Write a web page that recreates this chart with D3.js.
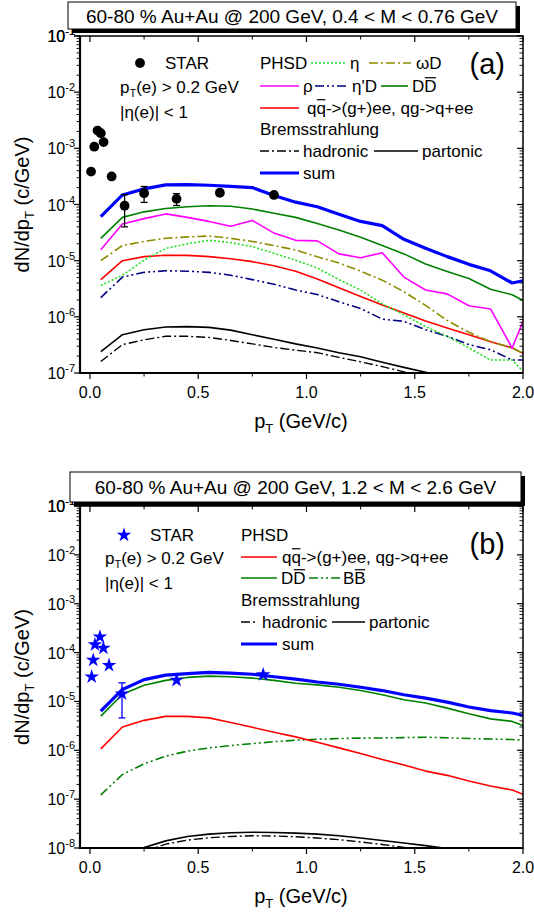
<!DOCTYPE html>
<html><head><meta charset="utf-8">
<script src="https://cdn.jsdelivr.net/npm/d3@7"></script>
<style>
body{margin:0;background:#fff}
svg{display:block;font-family:"Liberation Sans",Arial,Helvetica,sans-serif}
</style>
</head><body>
<svg id="chart" width="534" height="915"></svg>
<script>
// transverse momentum grid of the PHSD curves (GeV/c)
const ptGrid = [0.05,0.15,0.25,0.35,0.45,0.55,0.65,0.75,0.85,0.95,1.05,1.15,1.25,1.35,1.45,1.55,1.65,1.75,1.85,1.95,2.0];

// ---- panel (a): 0.4 < M < 0.76 GeV ----
const aSum      = [6.1e-5,1.48e-4,1.9e-4,2.24e-4,2.25e-4,2.2e-4,2.1e-4,2.0e-4,1.45e-4,1.1e-4,9.1e-5,6.7e-5,5.0e-5,4.2e-5,2.4e-5,1.67e-5,1.18e-5,8.6e-6,6.6e-6,4.0e-6,4.4e-6];
const aDDbar    = [2.5e-5,5.9e-5,7.4e-5,8.5e-5,9.1e-5,9.5e-5,9.3e-5,8.3e-5,7.0e-5,5.9e-5,4.6e-5,3.5e-5,2.6e-5,1.86e-5,1.32e-5,8.7e-6,6.4e-6,4.8e-6,3.1e-6,2.47e-6,1.96e-6];
const aRho      = [1.56e-5,4.5e-5,5.6e-5,6.8e-5,5.9e-5,5.0e-5,4.1e-5,5.2e-5,3.1e-5,2.3e-5,2.25e-5,1.32e-5,1.13e-5,1.38e-5,5.1e-6,3.0e-6,2.56e-6,1.58e-6,1.38e-6,2.78e-7,8.3e-7];
const aOmegaD   = [1.0e-5,1.86e-5,2.2e-5,2.5e-5,2.65e-5,2.75e-5,2.5e-5,2.2e-5,1.85e-5,1.55e-5,1.17e-5,9.1e-6,6.5e-6,4.5e-6,2.8e-6,1.6e-6,8.6e-7,5.3e-7,3.6e-7,2.8e-7,2.25e-7];
const aEta      = [3.6e-6,5.5e-6,1.02e-5,1.65e-5,2.0e-5,2.3e-5,2.1e-5,1.78e-5,1.35e-5,1.02e-5,7.4e-6,4.6e-6,3.0e-6,1.7e-6,1.09e-6,6.7e-7,4.5e-7,2.8e-7,1.7e-7,1.7e-7,1.07e-7];
const aQQbar    = [4.6e-6,1.0e-5,1.18e-5,1.25e-5,1.24e-5,1.18e-5,1.08e-5,9.6e-6,8.1e-6,6.5e-6,4.7e-6,3.3e-6,2.3e-6,1.62e-6,1.17e-6,8.4e-7,6.3e-7,4.8e-7,3.6e-7,2.8e-7,2.24e-7];
const aEtaPrimeD= [2.2e-6,5.1e-6,6.2e-6,6.6e-6,6.5e-6,6.2e-6,5.5e-6,4.6e-6,3.8e-6,3.0e-6,2.5e-6,1.85e-6,1.41e-6,9.1e-7,8.3e-7,5.9e-7,4.5e-7,3.2e-7,2.6e-7,1.7e-7,1.7e-7];
const aPartonic = [2.4e-7,4.8e-7,5.9e-7,6.6e-7,6.7e-7,6.5e-7,5.8e-7,4.8e-7,4.0e-7,3.3e-7,2.78e-7,2.3e-7,1.94e-7,1.55e-7,1.26e-7,1.03e-7,8.5e-8,7.0e-8,5.8e-8,4.8e-8,4.4e-8];
const aHadronic = [1.6e-7,3.2e-7,3.9e-7,4.5e-7,4.5e-7,4.3e-7,3.8e-7,3.3e-7,2.85e-7,2.55e-7,2.3e-7,1.9e-7,1.58e-7,1.3e-7,1.05e-7,8.4e-8,6.8e-8,5.5e-8,4.5e-8,3.7e-8,3.4e-8];
// STAR measurement
const aStarPt  = [0.005,0.02,0.035,0.05,0.063,0.1,0.16,0.25,0.40,0.60,0.85];
const aStarVal = [3.85e-4,1.07e-3,2.07e-3,1.86e-3,1.29e-3,3.16e-4,9.5e-5,1.59e-4,1.26e-4,1.62e-4,1.48e-4];
const aStarErr = [1.5e-5,4e-5,8e-5,7e-5,5e-5,3e-5,5.5e-5,5.0e-5,3.0e-5,2.0e-5,1.5e-5];

// ---- panel (b): 1.2 < M < 2.6 GeV ----
const bSum      = [6.3e-6,1.76e-5,2.8e-5,3.45e-5,3.7e-5,3.95e-5,3.8e-5,3.6e-5,3.2e-5,2.85e-5,2.5e-5,2.25e-5,1.95e-5,1.67e-5,1.37e-5,1.17e-5,9.7e-6,7.7e-6,6.5e-6,5.8e-6,5.2e-6];
const bDDbar    = [5.0e-6,1.4e-5,2.15e-5,2.7e-5,3.1e-5,3.3e-5,3.2e-5,3.0e-5,2.7e-5,2.35e-5,2.18e-5,1.95e-5,1.67e-5,1.37e-5,1.08e-5,9.3e-6,7.3e-6,5.6e-6,4.4e-6,3.9e-6,3.2e-6];
const bQQbar    = [1.07e-6,3.0e-6,4.1e-6,4.95e-6,4.95e-6,4.6e-6,3.7e-6,2.95e-6,2.34e-6,1.88e-6,1.46e-6,1.12e-6,8.6e-7,6.5e-7,5.0e-7,3.75e-7,3.07e-7,2.36e-7,1.86e-7,1.54e-7,1.26e-7];
const bBBbar    = [1.22e-7,3.2e-7,5.3e-7,7.6e-7,9.6e-7,1.12e-6,1.25e-6,1.37e-6,1.5e-6,1.61e-6,1.68e-6,1.74e-6,1.77e-6,1.79e-6,1.82e-6,1.85e-6,1.8e-6,1.74e-6,1.7e-6,1.66e-6,1.6e-6];
const bPartonic = [3e-9,6e-9,1.02e-8,1.4e-8,1.72e-8,1.92e-8,2.05e-8,2.1e-8,2.08e-8,2.02e-8,1.92e-8,1.78e-8,1.6e-8,1.42e-8,1.27e-8,1.12e-8,9.8e-9,8.5e-9,7.3e-9,6.3e-9,5.9e-9];
const bHadronic = [2.5e-9,5e-9,8.5e-9,1.2e-8,1.45e-8,1.62e-8,1.72e-8,1.78e-8,1.76e-8,1.7e-8,1.6e-8,1.48e-8,1.33e-8,1.18e-8,1.03e-8,9e-9,7.8e-9,6.7e-9,5.8e-9,5e-9,4.7e-9];
const bStarPt  = [0.008,0.015,0.023,0.046,0.062,0.088,0.148,0.40,0.80];
const bStarVal = [3.2e-5,7.0e-5,1.45e-4,2.1e-4,1.24e-4,5.5e-5,1.43e-5,2.72e-5,3.55e-5];
const bStarErr = [2e-6,4e-6,8e-6,1.2e-5,7e-6,4e-6,9.7e-6,3e-6,4e-6];

// axis ticks
const xMajorTicks = [0.0,0.5,1.0,1.5,2.0];
const xMinorTicks = [0.25,0.75,1.25,1.75];
const xTickLabels = ["0.0","0.5","1.0","1.5","2.0"];

const svg = d3.select("#chart");
const FONT = 17;

const styles = {
  sum:      {stroke:"#0000ff", width:3.2, dash:null},
  ddbar:    {stroke:"#008000", width:1.6, dash:null},
  rho:      {stroke:"#ff00ff", width:1.6, dash:null},
  omegaD:   {stroke:"#8c8c00", width:1.6, dash:"9,3,2,3"},
  eta:      {stroke:"#22e022", width:1.6, dash:"2,2"},
  qqbar:    {stroke:"#ff0000", width:1.6, dash:null},
  etaPD:    {stroke:"#000080", width:1.6, dash:"9,3,2,3,2,3"},
  partonic: {stroke:"#000000", width:1.6, dash:null},
  hadronic: {stroke:"#000000", width:1.4, dash:"9,3,2,3"},
  bbbar:    {stroke:"#008000", width:1.6, dash:"9,3,2,3,2,3"}
};

function overline(textNode, idxs, baseY, size){
  idxs.forEach(i=>{
    const x0 = textNode.getStartPositionOfChar(i).x;
    const x1 = textNode.getEndPositionOfChar(i).x;
    d3.select(textNode.parentNode).append("line")
      .attr("x1",x0+0.5).attr("x2",x1-0.5)
      .attr("y1",baseY-size*0.84).attr("y2",baseY-size*0.84)
      .attr("stroke","#000").attr("stroke-width",1.2);
  });
}

function drawPanel(cfg){
  const g = svg.append("g");
  const x = d3.scaleLinear().domain([-0.046,2.0]).range([80,523]);
  const y = d3.scaleLog().domain([cfg.yMin,1e-1]).range([cfg.bottom,cfg.top]);
  const L = 80, R = 523, T = cfg.top, B = cfg.bottom;

  const clipId = "clip"+cfg.id;
  g.append("clipPath").attr("id",clipId).append("rect")
    .attr("x",L).attr("y",T).attr("width",R-L).attr("height",B-T);

  // curves
  const line = d3.line().x((d,i)=>x(ptGrid[i])).y(d=>y(d));
  const plot = g.append("g").attr("clip-path",`url(#${clipId})`);
  cfg.curves.forEach(c=>{
    const s = styles[c.style];
    plot.append("path").attr("d",line(c.data)).attr("fill","none")
      .attr("stroke",s.stroke).attr("stroke-width",s.width)
      .attr("stroke-dasharray",s.dash).attr("stroke-linejoin","round");
  });

  // data points with error bars
  const pts = cfg.star.pt.map((p,i)=>({p, v:cfg.star.val[i], e:cfg.star.err[i]}));
  pts.forEach(d=>{
    const cx = x(d.p), hi = y(d.v+d.e), lo = y(d.v-d.e);
    if (lo-hi > 8){
      plot.append("line").attr("x1",cx).attr("x2",cx).attr("y1",hi).attr("y2",lo)
        .attr("stroke",cfg.markerColor).attr("stroke-width",1.3);
      [hi,lo].forEach(yy=>plot.append("line").attr("x1",cx-3.5).attr("x2",cx+3.5)
        .attr("y1",yy).attr("y2",yy).attr("stroke",cfg.markerColor).attr("stroke-width",1.3));
    }
  });
  pts.forEach(d=>{
    if (cfg.marker==="circle"){
      plot.append("circle").attr("cx",x(d.p)).attr("cy",y(d.v)).attr("r",4.9).attr("fill","#000");
    } else {
      plot.append("path").attr("d",d3.symbol(d3.symbolStar,66)())
        .attr("transform",`translate(${x(d.p)},${y(d.v)})`).attr("fill","#0000ff");
    }
  });

  // frame
  const ax = g.append("g").attr("stroke","#000");
  ax.append("rect").attr("x",L).attr("y",T).attr("width",R-L).attr("height",B-T)
    .attr("fill","none").attr("stroke-width",1.5);
  ax.append("line").attr("x1",L).attr("x2",L).attr("y1",T).attr("y2",B+1).attr("stroke-width",2.2);
  ax.append("line").attr("x1",L-1).attr("x2",R).attr("y1",B).attr("y2",B).attr("stroke-width",2.2);

  // x ticks: outward at bottom, inward at top
  xMajorTicks.forEach(v=>{
    ax.append("line").attr("x1",x(v)).attr("x2",x(v)).attr("y1",B).attr("y2",B+6).attr("stroke-width",1.2);
    ax.append("line").attr("x1",x(v)).attr("x2",x(v)).attr("y1",T).attr("y2",T+6).attr("stroke-width",1.2);
  });
  xMinorTicks.forEach(v=>{
    ax.append("line").attr("x1",x(v)).attr("x2",x(v)).attr("y1",B).attr("y2",B+3.5).attr("stroke-width",1);
    ax.append("line").attr("x1",x(v)).attr("x2",x(v)).attr("y1",T).attr("y2",T+3.5).attr("stroke-width",1);
  });
  // y ticks: outward on the left, inward on the right
  const decades = d3.range(Math.round(Math.log10(cfg.yMin)), 0);
  decades.forEach(e=>{
    const base = Math.pow(10,e);
    const yy = y(base);
    ax.append("line").attr("x1",L-6).attr("x2",L).attr("y1",yy).attr("y2",yy).attr("stroke-width",1.2);
    ax.append("line").attr("x1",R-6).attr("x2",R).attr("y1",yy).attr("y2",yy).attr("stroke-width",1.2);
    d3.range(2,10).forEach(m=>{
      const v = m*base; if (v>=1e-1) return;
      const ym = y(v);
      ax.append("line").attr("x1",L-3.5).attr("x2",L).attr("y1",ym).attr("y2",ym).attr("stroke-width",0.9);
      ax.append("line").attr("x1",R-3.5).attr("x2",R).attr("y1",ym).attr("y2",ym).attr("stroke-width",0.9);
    });
  });
  {
    const yy = y(1e-1);
    ax.append("line").attr("x1",L-6).attr("x2",L).attr("y1",yy).attr("y2",yy).attr("stroke-width",1.2);
  }

  // y tick labels
  decades.concat([-1]).forEach(e=>{
    const t = g.append("text").attr("x",75).attr("y",y(Math.pow(10,e))+6)
      .attr("text-anchor","end").attr("font-size",16);
    t.append("tspan").text("10");
    t.append("tspan").attr("font-size",11).attr("dy",-7).text(String(e));
  });
  // x tick labels
  xMajorTicks.forEach((v,i)=>{
    g.append("text").attr("x",x(v)).attr("y",B+25).attr("text-anchor","middle")
      .attr("font-size",16).text(xTickLabels[i]);
  });

  // axis titles
  const xt = g.append("text").attr("x",301).attr("y",B+55).attr("text-anchor","middle").attr("font-size",20);
  xt.append("tspan").text("p");
  xt.append("tspan").attr("font-size",13).attr("dy",5).text("T");
  xt.append("tspan").attr("dy",-5).text(" (GeV/c)");
  const yt = g.append("text").attr("transform",`translate(29,${(T+B)/2}) rotate(-90)`)
    .attr("text-anchor","middle").attr("font-size",20);
  yt.append("tspan").text("dN/dp");
  yt.append("tspan").attr("font-size",13).attr("dy",5).text("T");
  yt.append("tspan").attr("dy",-5).text(" (c/GeV)");

  // header box with drop shadow
  const hb = cfg.header;
  g.append("rect").attr("x",hb.x+4).attr("y",hb.y+4).attr("width",hb.w).attr("height",hb.h).attr("fill","#000");
  g.append("rect").attr("x",hb.x).attr("y",hb.y).attr("width",hb.w).attr("height",hb.h)
    .attr("fill","#fff").attr("stroke","#000").attr("stroke-width",1);
  g.append("text").attr("x",hb.x+hb.w/2).attr("y",hb.y+hb.h/2+7).attr("text-anchor","middle")
    .attr("font-size",19).text(hb.text);

  // panel tag
  g.append("text").attr("x",505).attr("y",cfg.tagY+10).attr("text-anchor","end")
    .attr("font-size",29).text(cfg.tag);

  // measurement annotation
  const ma = cfg.meas;
  if (cfg.marker==="circle"){
    g.append("circle").attr("cx",ma.mx).attr("cy",ma.y0).attr("r",4.9).attr("fill","#000");
  } else {
    g.append("path").attr("d",d3.symbol(d3.symbolStar,66)())
      .attr("transform",`translate(${ma.mx},${ma.y0})`).attr("fill","#0000ff");
  }
  g.append("text").attr("x",ma.tx).attr("y",ma.y0+6).attr("font-size",FONT).text("STAR");
  const t1 = g.append("text").attr("x",ma.cx).attr("y",ma.y1+6).attr("font-size",FONT);
  t1.append("tspan").text("p");
  t1.append("tspan").attr("font-size",11).attr("dy",4).text("T");
  t1.append("tspan").attr("dy",-4).text("(e) > 0.2 GeV");
  g.append("text").attr("x",ma.cx).attr("y",ma.y2+6).attr("font-size",FONT).text("|η(e)| < 1");

  // model legend
  const lg = g.append("g");
  cfg.legend.forEach(item=>{
    if (item.type==="text"){
      const tn = lg.append("text").attr("x",item.x).attr("y",item.y+6).attr("font-size",FONT).text(item.text);
      if (item.bars) overline(tn.node(), item.bars, item.y+6, FONT);
    } else {
      const s = styles[item.style];
      lg.append("line").attr("x1",item.x1).attr("x2",item.x2).attr("y1",item.y).attr("y2",item.y)
        .attr("stroke",s.stroke).attr("stroke-width",s.width).attr("stroke-dasharray",s.dash);
    }
  });
}

drawPanel({
  id:"a", top:36, bottom:373, yMin:1e-7, tag:"(a)", tagY:64,
  curves:[
    {data:aPartonic,style:"partonic"},{data:aHadronic,style:"hadronic"},
    {data:aEtaPrimeD,style:"etaPD"},{data:aQQbar,style:"qqbar"},{data:aEta,style:"eta"},
    {data:aOmegaD,style:"omegaD"},{data:aRho,style:"rho"},{data:aDDbar,style:"ddbar"},
    {data:aSum,style:"sum"}
  ],
  star:{pt:aStarPt,val:aStarVal,err:aStarErr}, marker:"circle", markerColor:"#000",
  header:{x:68,y:2,w:448,h:27,text:"60-80 % Au+Au @ 200 GeV, 0.4 < M < 0.76 GeV"},
  meas:{mx:140,tx:165,cx:120,y0:63,y1:87,y2:112},
  legend:[
    {type:"text",x:260,y:63,text:"PHSD"},
    {type:"line",style:"eta",x1:311,x2:345,y:63},
    {type:"text",x:350,y:63,text:"η"},
    {type:"line",style:"omegaD",x1:369,x2:411,y:63},
    {type:"text",x:416,y:63,text:"ωD"},
    {type:"line",style:"rho",x1:260,x2:299,y:86},
    {type:"text",x:303,y:86,text:"ρ"},
    {type:"line",style:"etaPD",x1:315,x2:349,y:86},
    {type:"text",x:352,y:86,text:"η'D"},
    {type:"line",style:"ddbar",x1:381,x2:408,y:86},
    {type:"text",x:412,y:86,text:"DD",bars:[1]},
    {type:"line",style:"qqbar",x1:260,x2:299,y:108},
    {type:"text",x:307,y:108,text:"qq->(g+)ee, qg->q+ee",bars:[1]},
    {type:"text",x:260,y:129,text:"Bremsstrahlung"},
    {type:"line",style:"hadronic",x1:260,x2:299,y:151},
    {type:"text",x:303,y:151,text:"hadronic"},
    {type:"line",style:"partonic",x1:374,x2:418,y:151},
    {type:"text",x:422,y:151,text:"partonic"},
    {type:"line",style:"sum",x1:260,x2:299,y:173},
    {type:"text",x:303,y:173,text:"sum"}
  ]
});

drawPanel({
  id:"b", top:506, bottom:848, yMin:1e-8, tag:"(b)", tagY:544,
  curves:[
    {data:bPartonic,style:"partonic"},{data:bHadronic,style:"hadronic"},
    {data:bBBbar,style:"bbbar"},{data:bQQbar,style:"qqbar"},
    {data:bDDbar,style:"ddbar"},{data:bSum,style:"sum"}
  ],
  star:{pt:bStarPt,val:bStarVal,err:bStarErr}, marker:"star", markerColor:"#0000ff",
  header:{x:70,y:472,w:451,h:30,text:"60-80 % Au+Au @ 200 GeV, 1.2 < M < 2.6 GeV"},
  meas:{mx:124,tx:150,cx:105,y0:535,y1:558,y2:583},
  legend:[
    {type:"text",x:241,y:535,text:"PHSD"},
    {type:"line",style:"qqbar",x1:241,x2:277,y:557},
    {type:"text",x:282,y:557,text:"qq->(g+)ee, qg->q+ee",bars:[1]},
    {type:"line",style:"ddbar",x1:241,x2:277,y:578},
    {type:"text",x:281,y:578,text:"DD",bars:[1]},
    {type:"line",style:"bbbar",x1:309,x2:340,y:578},
    {type:"text",x:343,y:578,text:"BB",bars:[1]},
    {type:"text",x:241,y:600,text:"Bremsstrahlung"},
    {type:"line",style:"hadronic",x1:241,x2:258,y:622},
    {type:"text",x:262,y:622,text:"hadronic"},
    {type:"line",style:"partonic",x1:332,x2:365,y:622},
    {type:"text",x:369,y:622,text:"partonic"},
    {type:"line",style:"sum",x1:241,x2:277,y:644},
    {type:"text",x:282,y:644,text:"sum"}
  ]
});
</script>
</body></html>
